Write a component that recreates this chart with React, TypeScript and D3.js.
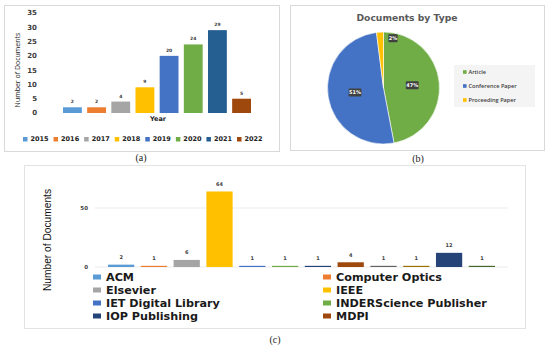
import React from 'react'
import * as d3 from 'd3'

// (a) documents per year
const years = ['2015', '2016', '2017', '2018', '2019', '2020', '2021', '2022']
const yearCounts = [2, 2, 4, 9, 20, 24, 29, 5]
const yearColors = ['#5B9BD5', '#ED7D31', '#A5A5A5', '#FFC000', '#4472C4', '#70AD47', '#255E91', '#9E480E']
const yearTicks = [0, 5, 10, 15, 20, 25, 30, 35]

// (b) documents by type (%)
const docTypes = ['Article', 'Conference Paper', 'Proceeding Paper']
const docShares = [47, 51, 2]
const docColors = ['#70AD47', '#4472C4', '#FFC000']

// (c) documents per publisher (last four are cut off the legend)
const publishers = [
  'ACM', 'Computer Optics', 'Elsevier', 'IEEE', 'IET Digital Library',
  'INDERScience Publisher', 'IOP Publishing', 'MDPI',
  'Publisher 9', 'Publisher 10', 'Publisher 11', 'Publisher 12',
]
const pubCounts = [2, 1, 6, 64, 1, 1, 1, 4, 1, 1, 12, 1]
const pubColors = [
  '#5B9BD5', '#ED7D31', '#A5A5A5', '#FFC000', '#4472C4', '#70AD47',
  '#264478', '#9E480E', '#636363', '#997300', '#264478', '#43682B',
]
const pubTicks = [0, 50]
const pubLegendCount = 8

const BOLD = 'DejaVu Sans, Verdana, sans-serif'
const SOFT = 'Open Sans, Calibri, sans-serif'
const SERIF = 'Liberation Serif, Times New Roman, serif'
const INK = '#404040'

const PanelA = () => {
  const x = d3.scaleBand().domain(years).range([63, 251]).paddingInner(0.22)
  const y = d3.scaleLinear().domain([0, 35]).range([113, 13])
  const legendX = d3.scalePoint().domain(years).range([23, 237])
  return (
    <g>
      <rect x={4.5} y={5.5} width={275} height={146} fill="#fff" stroke="#d9d9d9" />
      {yearTicks.map(t => (
        <text key={t} x={37} y={y(t)} dy="0.35em" textAnchor="end" fontFamily={BOLD}
          fontWeight="bold" fontSize={7} fill={INK}>{t}</text>
      ))}
      <text transform="translate(20,70) rotate(-90)" textAnchor="middle" fontFamily={SOFT}
        fontSize={7} fill="#222">Number of Documents</text>
      {years.map((yr, i) => (
        <g key={yr}>
          <rect x={x(yr)} y={y(yearCounts[i])} width={x.bandwidth()}
            height={y(0) - y(yearCounts[i])} fill={yearColors[i]} />
          <text x={(x(yr) as number) + x.bandwidth() / 2} y={y(yearCounts[i]) - 4}
            textAnchor="middle" fontFamily={BOLD} fontWeight="bold" fontSize={4.5} fill={INK}>
            {yearCounts[i]}
          </text>
        </g>
      ))}
      <text x={158} y={119} dy="0.35em" textAnchor="middle" fontFamily={BOLD}
        fontWeight="bold" fontSize={6.5} fill="#222">Year</text>
      {years.map((yr, i) => (
        <g key={yr} transform={`translate(${legendX(yr)},139)`}>
          <rect x={0} y={-2} width={4.5} height={4.5} fill={yearColors[i]} />
          <text x={7.5} y={0} dy="0.35em" fontFamily={BOLD} fontWeight="bold"
            fontSize={6.5} fill="#222">{yr}</text>
        </g>
      ))}
      <text x={141} y={157} dy="0.35em" textAnchor="middle" fontFamily={SERIF}
        fontSize={10} fill="#222">(a)</text>
    </g>
  )
}

const PanelB = () => {
  const cx = 383.5
  const cy = 88
  const r = 56
  const arcs = d3.pie<number>().sort(null).value(d => d)(docShares)
  const arc = d3.arc<d3.PieArcDatum<number>>().innerRadius(0).outerRadius(r)
  const labelArc = d3.arc<d3.PieArcDatum<number>>().innerRadius(r * 0.5).outerRadius(r * 0.53)
  const edgeArc = d3.arc<d3.PieArcDatum<number>>().innerRadius(r * 0.88).outerRadius(r * 0.9)
  const legendY = d3.scalePoint().domain(docTypes).range([72, 100])
  return (
    <g>
      <rect x={290.5} y={5.5} width={254} height={145} fill="#fff" stroke="#d9d9d9" />
      <text x={407} y={18} dy="0.35em" textAnchor="middle" fontFamily={BOLD}
        fontWeight="bold" fontSize={9.2} fill="#595959">Documents by Type</text>
      <g transform={`translate(${cx},${cy})`}>
        {arcs.map((a, i) => (
          <path key={i} d={arc(a) as string} fill={docColors[i]} stroke="#fff" strokeWidth={0.6} />
        ))}
        {arcs.map((a, i) => {
          const small = a.value < 5
          const [lx, ly] = small ? edgeArc.centroid(a) : labelArc.centroid(a)
          const label = `${a.value}%`
          const w = label.length * 3.6 + 2
          const bx = small ? lx + 8 : lx - w / 2
          return (
            <g key={i}>
              <rect x={bx} y={ly - 4} width={w} height={8} rx={1} fill="#404040" />
              <text x={bx + w / 2} y={ly} dy="0.35em" textAnchor="middle" fontFamily={BOLD}
                fontWeight="bold" fontSize={5} fill="#fff">{label}</text>
            </g>
          )
        })}
      </g>
      <rect x={454} y={65} width={81} height={42} fill="#f4f4f4" />
      {docTypes.map((t, i) => (
        <g key={t} transform={`translate(463,${legendY(t)})`}>
          <rect x={0} y={-1.8} width={3.6} height={3.6} fill={docColors[i]} />
          <text x={5.5} y={0} dy="0.35em" fontFamily={SOFT} fontWeight={600}
            fontSize={5.6} fill={INK}>{t}</text>
        </g>
      ))}
      <text x={418} y={158} dy="0.35em" textAnchor="middle" fontFamily={SERIF}
        fontSize={10} fill="#222">(b)</text>
    </g>
  )
}

const PanelC = () => {
  const x = d3.scaleBand().domain(publishers).range([108, 495]).paddingInner(0.2)
  const y = d3.scaleLinear().domain([0, 50]).range([267, 208])
  const legend = publishers.slice(0, pubLegendCount)
  return (
    <g>
      <rect x={24.5} y={165.5} width={501} height={163} fill="#fff" stroke="#e3e3e3" />
      {pubTicks.map(t => (
        <g key={t}>
          <line x1={95} x2={508} y1={y(t)} y2={y(t)} stroke="#e6e6e6" strokeWidth={0.8} />
          <text x={88} y={y(t)} dy="0.35em" textAnchor="end" fontFamily={BOLD}
            fontWeight="bold" fontSize={5.5} fill={INK}>{t}</text>
        </g>
      ))}
      <text transform="translate(51,240) rotate(-90)" textAnchor="middle" fontFamily="Liberation Sans, Arial, sans-serif"
        fontSize={11.5} textLength={102} lengthAdjust="spacingAndGlyphs" fill="#111">Number of Documents</text>
      {publishers.map((p, i) => (
        <g key={p}>
          <rect x={x(p)} y={y(pubCounts[i])} width={x.bandwidth()}
            height={Math.max(1, y(0) - y(pubCounts[i]))} fill={pubColors[i]} />
          <text x={(x(p) as number) + x.bandwidth() / 2} y={y(pubCounts[i]) - 5.5}
            textAnchor="middle" fontFamily={BOLD} fontWeight="bold" fontSize={5} fill={INK}>
            {pubCounts[i]}
          </text>
        </g>
      ))}
      {legend.map((p, i) => (
        <g key={p} transform={`translate(${i % 2 === 0 ? 93 : 323},${277 + Math.floor(i / 2) * 13})`}>
          <rect x={0} y={-2.5} width={8} height={5} fill={pubColors[i]} />
          <text x={13} y={0} dy="0.35em" fontFamily={BOLD} fontWeight="bold"
            fontSize={11.2} fill="#1a1a1a">{p}</text>
        </g>
      ))}
      <text x={275} y={339} dy="0.35em" textAnchor="middle" fontFamily={SERIF}
        fontSize={10} fill="#222">(c)</text>
    </g>
  )
}

export default function App() {
  return (
    <svg width={550} height={348} style={{ position: 'absolute', left: 0, top: 0, background: '#fff' }}>
      <rect width={550} height={348} fill="#fff" />
      <PanelA />
      <PanelB />
      <PanelC />
    </svg>
  )
}
